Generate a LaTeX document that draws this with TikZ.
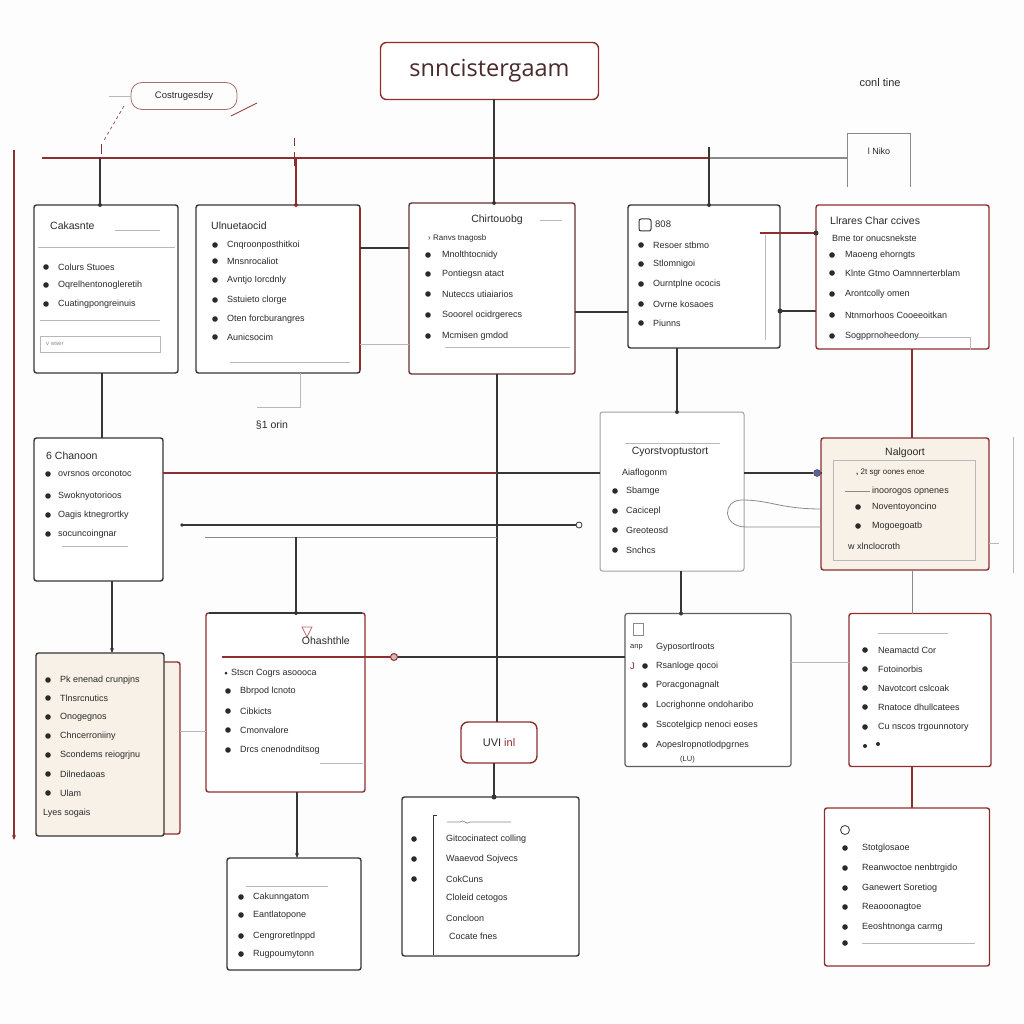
\documentclass[tikz,border=0pt]{standalone}
\usepackage{fontspec}
\setmainfont{Liberation Sans}
\newfontfamily\titlefont{Open Sans}
\usetikzlibrary{arrows.meta}
\definecolor{dk}{HTML}{363636}
\definecolor{tx}{HTML}{2A2A2A}
\definecolor{rd}{HTML}{8E2F2F}
\definecolor{gr}{HTML}{B8B8B8}
\definecolor{md}{HTML}{8A8A8A}
\definecolor{bg}{HTML}{F8F1E7}
\definecolor{paper}{HTML}{FDFDFD}
\definecolor{ttc}{HTML}{4A2A2A}
\tikzset{
 box/.style={draw=dk, line width=1.4pt, rounded corners=2.5pt, fill=white, inner sep=0pt, outer sep=0pt},
 redbox/.style={box, draw=rd},
 item/.style={font=\fontsize{9}{10}\selectfont, text=tx, inner sep=0pt, anchor=west},
 ttl/.style={font=\fontsize{10.5}{12}\selectfont, text=tx, inner sep=0pt},
 dkline/.style={draw=dk, line width=1.2pt},
 rdline/.style={draw=rd, line width=1.2pt},
 grline/.style={draw=gr, line width=0.7pt},
 mdline/.style={draw=md, line width=1pt},
 tip/.style={-{Stealth[length=5pt,width=4pt]}},
}
\newcommand\blist[4]{%
  \foreach \yy/\tx [count=\i] in {#4} {%
    \fill[tx] (#2,\yy) circle (2.8);
    \node[item] (#1\i) at (#3,\yy) {\tx};
  }}
\begin{document}
\begin{tikzpicture}[x=1pt,y=-1pt]
\fill[paper] (0,0) rectangle (1024,1024);
\useasboundingbox (0,0) rectangle (1024,1024);

% helper coordinates
\foreach \xv in {100,102,112,257,296,297,300,494,497,677,681,709,760,912}{\coordinate (x\xv) at (\xv,0);}
\foreach \yv in {147,158,233,248,311,312,344,407,473,527,657,662,731}{\coordinate (y\yv) at (0,\yv);}

% ---------- boxes ----------
\node[redbox, rounded corners=6pt, minimum width=218, minimum height=57,
  font=\titlefont\fontsize{23.5}{27}\selectfont, text=ttc] (T) at (489.5,71) {snncistergaam};
\node[draw=rd!70, line width=0.8pt, rounded corners=11pt, minimum width=106, minimum height=27,
  inner sep=0pt, font=\fontsize{9.5}{10}\selectfont, text=tx] (tag) at (184,96) {Costrugesdsy};
\node[font=\fontsize{11}{12}\selectfont, text=tx] (conl) at (880,83) {conl tine};
\node[minimum width=63, minimum height=53, inner sep=0pt] (niko) at (879,160) {};
\draw[md, line width=1pt] (niko.south west) -- (niko.north west) -- (niko.north east) -- (niko.south east);
\node[font=\fontsize{9}{10}\selectfont, text=tx] (nikot) at (879,151) {l Niko};

\node[box, minimum width=144, minimum height=168] (A) at (106,289) {};
\node[box, minimum width=164, minimum height=168] (B) at (278,289) {};
\draw[rdline] ([yshift=-3pt]B.north east) -- ([yshift=3pt]B.south east);
\node[box, draw=rd!55!dk, minimum width=166, minimum height=171] (C) at (492,288.5) {};
\node[box, minimum width=152, minimum height=143] (D) at (704,276.5) {};
\node[redbox, minimum width=173, minimum height=144] (E) at (902.5,277) {};

\node[box, minimum width=129, minimum height=143] (F) at (98.5,509.5) {};
\node[box, draw=md!80, line width=1pt, minimum width=144, minimum height=159] (G) at (672,491.5) {};
\node[redbox, fill=bg, minimum width=168, minimum height=132] (H) at (905,504) {};
\draw[grline] (833,460) rectangle (975,560);

\node[redbox, fill=bg, minimum width=30, minimum height=172] (Iside) at (165,748) {};
\node[box, fill=bg, minimum width=128, minimum height=183] (I) at (100,744.5) {};
\node[redbox, minimum width=159, minimum height=179] (J) at (285.5,702.5) {};
\draw[dkline] ([xshift=3pt]J.north west) -- ([xshift=-3pt]J.north east);
\node[redbox, rounded corners=7pt, minimum width=76, minimum height=41,
  font=\fontsize{11}{12}\selectfont] (K) at (499,742.5) {\textcolor{tx}{UVI} \textcolor{rd}{inl}};
\node[box, draw=dk!80, line width=1.2pt, minimum width=166, minimum height=153] (L) at (708,690) {};
\node[redbox, minimum width=142, minimum height=153] (M) at (920,690) {};

\node[box, minimum width=134, minimum height=112] (N) at (294,914) {};
\node[box, minimum width=177, minimum height=159] (O) at (490.5,876.5) {};
\node[redbox, minimum width=165, minimum height=158] (P) at (907,887) {};

% ---------- connectors ----------
\coordinate (hlL) at (42,158);
\draw[rdline] (hlL) -- (hlL -| x709);
\draw[mdline, line width=1.2pt] (hlL -| x709) -- (niko.west |- hlL);
\draw[dkline] (A.north -| x100) -- (hlL -| x100);
\draw[rdline] (B.north -| x296) -- (hlL -| x296);
\draw[dkline] (D.north -| x709) -- (x709 |- y147);
\fill[dk] (A.north -| x100) circle (2);
\fill[rd] (B.north -| x296) circle (2);
\fill[dk] (D.north -| x709) circle (2);
\draw[dkline] (T.south -| x494) -- (C.north -| x494);
\fill[dk] (C.north -| x494) circle (2);

% left red vertical
\coordinate (lv1) at (14,150);
\coordinate (lv2) at (14,840);
\draw[rdline, tip] (lv1) -- (lv2);

% tag marks
\coordinate (tg1) at (124,106);
\coordinate (tg2) at (103,142);
\draw[rd!80, line width=0.8pt, dashed] (tg1) -- (tg2);
\draw[gr, line width=0.8pt] (tag.west) -- ++(-22,0);
\coordinate (sl1) at (231,116);
\coordinate (sl2) at (257,103);
\draw[rd, line width=0.8pt] (sl1) -- (sl2);
\draw[rd, line width=1pt] (101,144) -- (101,154) (294,138) -- (294,146) (294,152) -- (294,166);

% vertical connectors
\draw[dkline] (A.south -| x102) -- (F.north -| x102);
\draw[dkline, tip] (F.south -| x112) -- (I.north -| x112);
\draw[dkline] (C.south -| x497) -- (K.north -| x497);
\draw[dkline] (K.south -| x494) -- (O.north -| x494);
\fill[dk] (O.north -| x494) circle (2.5);
\draw[dkline] (D.south -| x677) -- (G.north -| x677);
\fill[dk] (G.north -| x677) circle (2);
\draw[dkline] (G.south -| x681) -- (L.north -| x681);
\fill[dk] (L.north -| x681) circle (2);
\draw[rdline] (E.south -| x912) -- (H.north -| x912);
\draw[mdline] (H.south -| x912) -- (M.north -| x912);
\draw[rdline] (M.south -| x912) -- (P.north -| x912);
\draw[dkline, tip] (J.south -| x297) -- (N.north -| x297);
\draw[grline, line width=1pt] (B.south -| x300) -- (x300 |- y407) -- (x257 |- y407);
\node[font=\fontsize{10.5}{11}\selectfont, text=tx] (orin) at (272,425) {§1 orin};

% horizontal connectors
\draw[dkline] (B.east |- y248) -- (C.west |- y248);
\draw[grline] (B.east |- y344) -- (C.west |- y344);
\draw[dkline] (C.east |- y312) -- (D.west |- y312);
\draw[rdline] (x760 |- y233) -- (E.west |- y233);
\fill[dk] (E.west |- y233) circle (2.5);
\draw[dkline] (D.east |- y311) -- (E.west |- y311);
\fill[dk] (D.east |- y311) circle (2.5);

\draw[rdline] (F.east |- y473) -- (x497 |- y473);
\draw[dkline] (x497 |- y473) -- (G.west |- y473);
\node[circle, draw=dk, fill=blue!25!gray, inner sep=0pt, minimum size=7pt] (mk2) at (817,473) {};
\draw[dkline] (G.east |- y473) -- (mk2);
\draw[dkline] (mk2) -- (H.west |- y473);

\coordinate (l525a) at (182,525);
\coordinate (l525b) at (576,525);
\draw[dkline] (l525a) -- (l525b);
\draw[dk, line width=0.8pt] (l525b) ++(3,0) circle (3);
\fill[dk] (l525a) circle (1.8);
\coordinate (l537a) at (205,537);
\draw[mdline] (l537a) -- (x497 |- l537a);
\draw[dkline] (J.north -| x296) -- (l537a -| x296);
\fill[dk] (J.north -| x296) circle (2);

\coordinate (j657) at (222,657);
\node[circle, draw=rd, fill=rd!35, line width=1pt, inner sep=0pt, minimum size=7pt] (mk1) at (394,657) {};
\draw[rdline] (j657) -- (mk1);
\draw[dkline] (mk1) -- (L.west |- mk1);
\draw[grline, line width=1pt] (Iside.east |- y731) -- (J.west |- y731);
\draw[grline, line width=1pt] (L.east |- y662) -- (M.west |- y662);

% loop between G and H
\coordinate (lp1) at (822,509);
\coordinate (lp2) at (742,500);
\draw[md, line width=0.8pt] (lp1) .. controls (780,509) and (770,500) .. (lp2)
  .. controls (722,500) and (722,527) .. (746,527) -- (H.west |- y527);
\draw[grline] (H.east) ++(0,39) -- ++(10,0);
\draw[grline] (1013,437) -- (1013,573);

% ---------- box contents ----------
% A
\node[ttl, anchor=west] (At) at (50,226) {Cakasnte};
\draw[grline] (115,230) -- (160,230) (38,247) -- (175,247) (40,320) -- (160,320);
\draw[grline] (40,336) rectangle (160,352);
\node[item, font=\fontsize{6}{7}\selectfont, text=md] (Ab) at (46,344) {v wser};
\blist{A}{46}{58}{267/Colurs Stuoes,285/Oqrelhentonogleretih,304/Cuatingpongreinuis}
% B
\node[ttl, anchor=west] (Bt) at (211,226) {Ulnuetaocid};
\blist{B}{215}{227}{245/Cnqroonposthitkoi,261/Mnsnrocaliot,280/Avntjo Iorcdnly,300/Sstuieto clorge,319/Oten forcburangres,337/Aunicsocim}
\draw[grline] (230,362) -- (350,362);
% C
\node[ttl] (Ct) at (497,220) {Chirtouobg};
\draw[grline] (540,220) -- (562,220);
\node[item] (C0) at (428,238) {\fontsize{8}{9}\selectfont› Ranvs tnagosb};
\blist{C}{428}{442}{255/Mnolthtocnidy,274/Pontiegsn atact,294/Nuteccs utiaiarios,315/Sooorel ocidrgerecs,336/Mcmisen gmdod}
\draw[grline] (445,347) -- (570,347);
% D
\draw[dk, line width=1pt, rounded corners=2pt] (639,219) rectangle (651,231);
\node[ttl, anchor=west, font=\fontsize{9.5}{10}\selectfont] (Dt) at (655,224) {808};
\blist{D}{641}{653}{245/Resoer stbmo,264/Stlomnigoi,284/Ourntplne ococis,304/Ovrne kosaoes,323/Piunns}
\draw[grline] (765,235) -- (765,340);
% E
\node[ttl, anchor=west] (Et) at (830,221) {Llrares Char ccives};
\node[item] (E0) at (832,238) {Bme tor onucsnekste};
\blist{E}{832}{845}{255/Maoeng ehorngts,273/Klnte Gtmo Oamnnerterblam,294/Arontcolly omen,315/Ntnmorhoos Cooeeoitkan,336/Sogpprnoheedony}
\draw[grline] (915,337) -- (970,337) -- (970,350);
% F
\node[ttl, anchor=west] (Ft) at (46,456) {6 Chanoon};
\blist{F}{48}{58}{474/ovrsnos orconotoc,496/Swoknyotorioos,515/Oagis ktnegrortky,534/socuncoingnar}
\draw[grline] (62,546) -- (128,546);
% G
\draw[grline] (625,443) -- (720,443);
\node[ttl] (Gt) at (670,452) {Cyorstvoptustort};
\node[item] (G0) at (622,473) {Aiaflogonm};
\blist{G}{615}{626}{491/Sbamge,511/Cacicepl,530/Greoteosd,550/Snchcs}
% H
\node[ttl] (Ht) at (905,453) {Nalgoort};
\node[item] (H0) at (856,473) {\fontsize{8}{9}\selectfont\textbf{,} 2t sgr oones enoe};
\draw[md, line width=0.7pt] (845,491) -- (870,491);
\node[item] (H00) at (872,491) {inoorogos opnenes};
\blist{H}{858}{872}{507/Noventoyoncino,526/Mogoegoatb}
\node[item] (H000) at (848,546) {w xlnclocroth};
% I
\blist{I}{48}{60}{680/Pk enenad crunpjns,698/Tlnsrcnutics,717/Onogegnos,736/Chncerroniiny,755/Scondems reiogrjnu,774/Dilnedaoas,793/Ulam}
\node[item] (I0) at (43,813) {Lyes sogais};
% J
\draw[rd!70, line width=0.7pt] (302,627) -- (312,627) -- (307,637) -- cycle;
\node[ttl, anchor=east] (Jt) at (350,641) {Ohashthle};
\fill[tx] (226,673) circle (1.5);
\node[item] (J0) at (231,673) {Stscn Cogrs asoooca};
\blist{J}{228}{240}{691/Bbrpod lcnoto,711/Cibkicts,730/Cmonvalore,750/Drcs cnenodnditsog}
\draw[grline] (320,763) -- (363,763);
% L
\draw[md, line width=0.7pt] (633,623) rectangle (643,635);
\node[item, font=\fontsize{7.5}{8}\selectfont] (L0a) at (630,647) {anp};
\node[item] (L0) at (656,647) {Gyposortlroots};
\node[item, text=rd, font=\fontsize{9.5}{10}\selectfont] (L0b) at (630,666) {J};
\blist{L}{645}{656}{666/Rsanloge qocoi,685/Poracgonagnalt,705/Locrighonne ondoharibo,725/Sscotelgicp nenoci eoses,745/Aopeslropnotlodpgrnes}
\node[item, font=\fontsize{7.5}{8}\selectfont] (L00) at (680,760) {(LU)};
% M
\draw[grline] (878,633) -- (948,633);
\blist{M}{865}{878}{650/Neamactd Cor,669/Fotoinorbis,688/Navotcort cslcoak,707/Rnatoce dhullcatees,727/Cu nscos trgounnotory}
\fill[tx] (865,746) circle (2) (878,744) circle (2);
% N
\draw[grline] (246,886) -- (328,886);
\blist{N}{241}{253}{897/Cakunngatom,915/Eantlatopone,936/Cengroretlnppd,954/Rugpoumytonn}
% O
\draw[dk, line width=0.8pt] (437,815) -- (433,815) -- (433,955);
\draw[md, line width=0.7pt] (447,822) -- (460,822) .. controls (464,818) and (466,826) .. (470,822) -- (511,822);
\blist{O}{414}{446}{839/Gitcocinatect colling,859/Waaevod Sojvecs,879/CokCuns}
\node[item] (O4) at (446,898) {Cloleid cetogos};
\node[item] (O5) at (446,918) {Concloon};
\node[item] (O6) at (449,936) {Cocate fnes};
% P
\draw[dk, line width=0.8pt] (845,830) circle (4.5);
\blist{P}{845}{862}{848/Stotglosaoe,868/Reanwoctoe nenbtrgido,888/Ganewert Soretiog,907/Reaooonagtoe,927/Eeoshtnonga carmg}
\fill[tx] (845,943) circle (2.8);
\draw[grline] (862,943) -- (975,943);
\end{tikzpicture}
\end{document}
